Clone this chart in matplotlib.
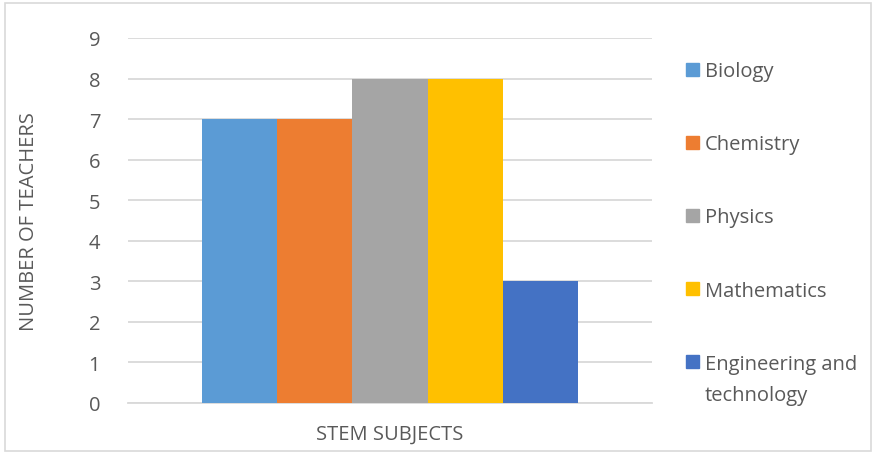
import matplotlib.pyplot as plt
from matplotlib.patches import Rectangle

subjects = ['Biology', 'Chemistry', 'Physics', 'Mathematics', 'Engineering and\ntechnology']
teachers = [7, 7, 8, 8, 3]
colors = ['#5B9BD5', '#ED7D31', '#A5A5A5', '#FFC000', '#4472C4']
category = 'STEM SUBJECTS'

plt.rcParams['font.family'] = ['Open Sans', 'DejaVu Sans']
txt = '#595959'
grid = '#D9D9D9'
W, H = 877, 456

fig = plt.figure(figsize=(8.77, 4.56), dpi=100)
ax = fig.add_axes([128/W, 1-404/H, (652-128)/W, (404-39)/H])

w = 75.2/524
n = len(subjects)
for i in range(n):
    x = (i - (n-1)/2) * w
    ax.bar(x, teachers[i], width=w, color=colors[i], zorder=3)

ax.set_xlim(-0.5, 0.5)
ax.set_ylim(0, 9)
ax.set_yticks(range(0, 10))
ax.set_xticks([0])
ax.set_xticklabels([category])
ax.tick_params(axis='both', length=0, colors=txt, labelsize=14.5)
ax.tick_params(axis='y', pad=20)
ax.tick_params(axis='x', labelsize=14.5, pad=15)
ax.yaxis.grid(True, color=grid, linewidth=1.3, zorder=0)
for s in ['top', 'right', 'left']:
    ax.spines[s].set_visible(False)
ax.spines['bottom'].set_color(grid)
ax.spines['bottom'].set_linewidth(1.3)
ax.set_ylabel('NUMBER OF TEACHERS', color=txt, fontsize=14.5, labelpad=36)

# legend, drawn by hand so the square sits on the first line
for i in range(n):
    yc = 70 + i * 73.2
    fig.patches.append(Rectangle((686/W, 1-(yc+6.5)/H), 13/W, 13/H, transform=fig.transFigure,
                                 color=colors[i]))
    fig.text(705/W, 1-(yc-8)/H, subjects[i], color=txt, fontsize=14.5, va='top',
             linespacing=1.75)

fig.patches.append(Rectangle((5/W, 4/H), 866/W, 1-8/H, transform=fig.transFigure,
                             fill=False, edgecolor=grid, linewidth=1.2))

fig.savefig('out.png', dpi=100)
